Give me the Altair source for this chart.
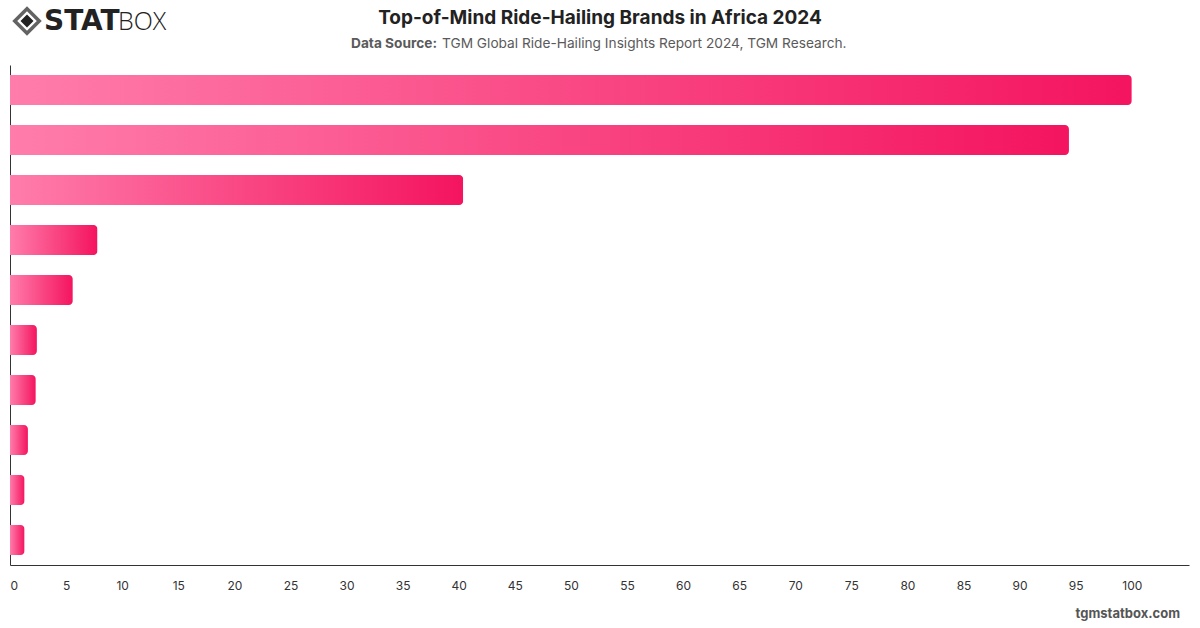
import altair as alt
import pandas as pd

# Top-of-mind share (%) by brand rank, Africa 2024
ranks = [1, 2, 3, 4, 5, 6, 7, 8, 9, 10]
shares = [100, 94.4, 40.4, 7.8, 5.6, 2.4, 2.3, 1.6, 1.3, 1.3]
tick_values = list(range(0, 101, 5))

title_text = "Top-of-Mind Ride-Hailing Brands in Africa 2024"
source_bold = "Data Source:"
source_rest = "TGM Global Ride-Hailing Insights Report 2024, TGM Research."
footer_text = "tgmstatbox.com"

df = pd.DataFrame({"rank": ranks, "share": shares})

FONT = "Inter"
one = alt.Data(values=[{}])

bar_fill = alt.Gradient(
    gradient="linear",
    stops=[
        alt.GradientStop(color="#FF7DAB", offset=0),
        alt.GradientStop(color="#F4145F", offset=1),
    ],
    x1=0, x2=1, y1=0, y2=0,
)

bars = alt.Chart(df).mark_bar(color=bar_fill, cornerRadiusEnd=4).encode(
    x=alt.X(
        "share:Q",
        scale=alt.Scale(domain=[0, 105.1], nice=False, zero=True),
        axis=alt.Axis(
            values=tick_values, title=None, grid=False, ticks=False,
            labelPadding=15, labelFontSize=12, labelColor="#333333",
            labelFont=FONT, domainColor="#333333", domainWidth=1,
        ),
    ),
    y=alt.Y(
        "rank:O",
        sort="ascending",
        scale=alt.Scale(paddingInner=0.4, paddingOuter=0.2),
        axis=alt.Axis(
            title=None, labels=False, ticks=False, grid=False,
            domainColor="#333333", domainWidth=1,
        ),
    ),
)

def text_layer(text, x, y, size, weight="normal", color="#222222", align="left", font=FONT):
    return alt.Chart(one).mark_text(
        text=text, fontSize=size, fontWeight=weight, color=color,
        align=align, baseline="middle", font=font,
    ).encode(x=alt.value(x), y=alt.value(y))

title = text_layer(title_text, 590, -47, 19, "bold", "#222222", "center")
sub_bold = text_layer(source_bold, 427, -21, 13.7, "bold", "#5a5a5a", "right")
sub_rest = text_layer(source_rest, 432, -21, 13.7, "normal", "#5a5a5a", "left")
footer = text_layer(footer_text, 1170, 549, 13, "bold", "#555555", "right")

# STATBOX wordmark
logo_outer = alt.Chart(one).mark_point(
    shape="diamond", size=600, filled=False, stroke="#222222", strokeWidth=3.5
).encode(x=alt.value(17), y=alt.value(-44))
logo_inner = alt.Chart(one).mark_point(
    shape="diamond", size=170, filled=True, color="#222222", opacity=1
).encode(x=alt.value(17), y=alt.value(-44))
logo_stat = text_layer("STAT", 34, -43, 28, 900, "#222222", "left", "DejaVu Sans")
logo_box = text_layer("BOX", 108, -43, 25, 300, "#222222", "left", "Open Sans")

chart = alt.layer(
    bars, title, sub_bold, sub_rest, footer,
    logo_outer, logo_inner, logo_stat, logo_box,
).properties(
    width=1179,
    height=500,
    padding={"left": 10, "top": 65, "right": 11, "bottom": 63},
    autosize=alt.AutoSizeParams(type="none"),
    background="white",
).configure_view(stroke=None)

chart.save("out.html", embed_options={"renderer": "svg", "actions": False})
